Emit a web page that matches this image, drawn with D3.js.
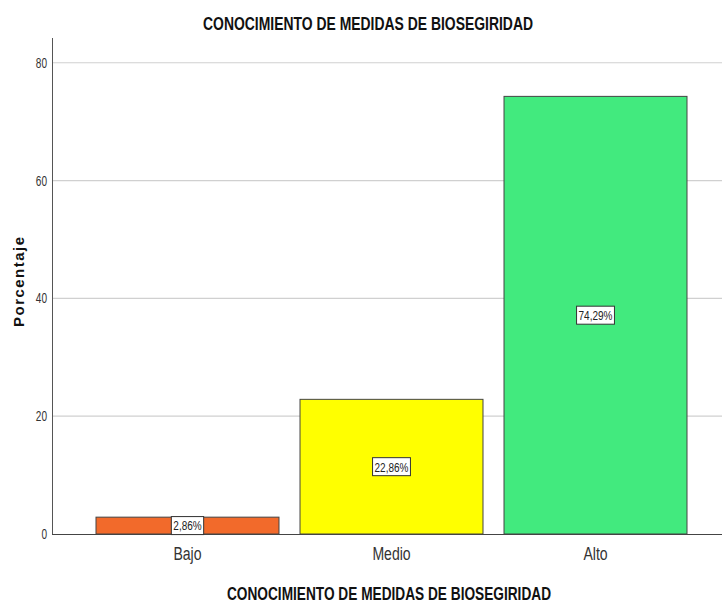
<!DOCTYPE html>
<html>
<head>
<meta charset="utf-8">
<script src="https://cdn.jsdelivr.net/npm/d3@7"></script>
<style>
  html, body { margin: 0; padding: 0; background: #fff; }
  svg { display: block; font-family: "Liberation Sans", Arial, sans-serif; }
</style>
</head>
<body>
<svg id="chart" width="722" height="603"></svg>
<script>
// data ---
var categories = ["Bajo", "Medio", "Alto"];
var percentages = [2.86, 22.86, 74.29];
var valueLabels = ["2,86%", "22,86%", "74,29%"];
var barColors = ["#F26A2B", "#FFFF00", "#42EA7E"];
var yTicks = [0, 20, 40, 60, 80];
var chartTitle = "CONOCIMIENTO DE MEDIDAS DE BIOSEGIRIDAD";
var yTitle = "Porcentaje";

var svg = d3.select("#chart");

var plot = { left: 52, right: 722, top: 38, bottom: 534 };

var y = d3.scaleLinear().domain([0, 84.2]).range([plot.bottom, plot.top]);
var x = d3.scaleBand().domain(categories)
    .range([96, 687])
    .paddingInner(0.103)
    .paddingOuter(0);

// squeeze text to look like a narrow face
function narrow(sel, f) {
    sel.each(function () {
        var len = this.getComputedTextLength();
        d3.select(this).attr("textLength", len * f).attr("lengthAdjust", "spacingAndGlyphs");
    });
}

//  Gridlines ---
svg.append("g")
    .selectAll("line")
    .data(yTicks.filter(function (d) { return d > 0; }))
    .enter().append("line")
    .attr("x1", plot.left).attr("x2", plot.right)
    .attr("y1", function (d) { return y(d); })
    .attr("y2", function (d) { return y(d); })
    .attr("stroke", "#d0d0d0")
    .attr("stroke-width", 1.2);

//  Y axis ---
var yAxis = svg.append("g")
    .attr("transform", "translate(" + plot.left + ",0)")
    .call(d3.axisLeft(y).tickValues(yTicks).tickSize(0).tickPadding(5));
yAxis.select(".domain").remove();
yAxis.selectAll("text")
    .attr("font-size", 14)
    .attr("fill", "#333")
    .attr("font-family", "Liberation Sans, Arial, sans-serif")
    .call(narrow, 0.72);

svg.append("line")
    .attr("x1", plot.left + 0.5).attr("x2", plot.left + 0.5)
    .attr("y1", plot.top).attr("y2", plot.bottom)
    .attr("stroke", "#555").attr("stroke-width", 1);

//  Bars ---
svg.append("g")
    .selectAll("rect")
    .data(percentages)
    .enter().append("rect")
    .attr("x", function (d, i) { return x(categories[i]); })
    .attr("width", x.bandwidth())
    .attr("y", function (d) { return y(d); })
    .attr("height", function (d) { return y(0) - y(d); })
    .attr("fill", function (d, i) { return barColors[i]; })
    .attr("stroke", "#444")
    .attr("stroke-width", 1);

//  X axis baseline ---
svg.append("line")
    .attr("x1", plot.left).attr("x2", plot.right)
    .attr("y1", plot.bottom + 0.5).attr("y2", plot.bottom + 0.5)
    .attr("stroke", "#444").attr("stroke-width", 1);

var xAxis = svg.append("g")
    .attr("transform", "translate(0," + plot.bottom + ")")
    .call(d3.axisBottom(x).tickSize(0).tickPadding(13));
xAxis.select(".domain").remove();
xAxis.selectAll("text")
    .attr("font-size", 18)
    .attr("fill", "#333")
    .attr("font-family", "Liberation Sans, Arial, sans-serif")
    .call(narrow, 0.78);

//  Value labels ---
var lab = svg.append("g")
    .selectAll("g")
    .data(percentages)
    .enter().append("g")
    .attr("transform", function (d, i) {
        return "translate(" + (x(categories[i]) + x.bandwidth() / 2) + "," + y(d / 2) + ")";
    });
lab.append("rect").attr("class", "box");
lab.append("text")
    .text(function (d, i) { return valueLabels[i]; })
    .attr("text-anchor", "middle")
    .attr("dy", "0.36em")
    .attr("font-size", 13.5)
    .attr("fill", "#222")
    .call(narrow, 0.74);
lab.each(function () {
    var g = d3.select(this);
    var w = +g.select("text").attr("textLength") + 4;
    g.select("rect.box")
        .attr("x", -w / 2).attr("y", -9)
        .attr("width", w).attr("height", 18)
        .attr("fill", "#fff")
        .attr("stroke", "#333").attr("stroke-width", 1);
});

//  Titles ---
svg.append("text")
    .attr("x", 368).attr("y", 30)
    .attr("text-anchor", "middle")
    .attr("font-size", 18)
    .attr("font-weight", "bold")
    .attr("fill", "#111")
    .attr("textLength", 330)
    .attr("lengthAdjust", "spacingAndGlyphs")
    .text(chartTitle);

svg.append("text")
    .attr("x", 389).attr("y", 600)
    .attr("text-anchor", "middle")
    .attr("font-size", 18)
    .attr("font-weight", "bold")
    .attr("fill", "#111")
    .attr("textLength", 324)
    .attr("lengthAdjust", "spacingAndGlyphs")
    .text(chartTitle);

svg.append("text")
    .attr("transform", "translate(24," + 282 + ") rotate(-90)")
    .attr("text-anchor", "middle")
    .attr("font-size", 15)
    .attr("font-weight", "bold")
    .attr("fill", "#111")
    .attr("textLength", 90)
    .attr("lengthAdjust", "spacing")
    .text(yTitle);
</script>
</body>
</html>
